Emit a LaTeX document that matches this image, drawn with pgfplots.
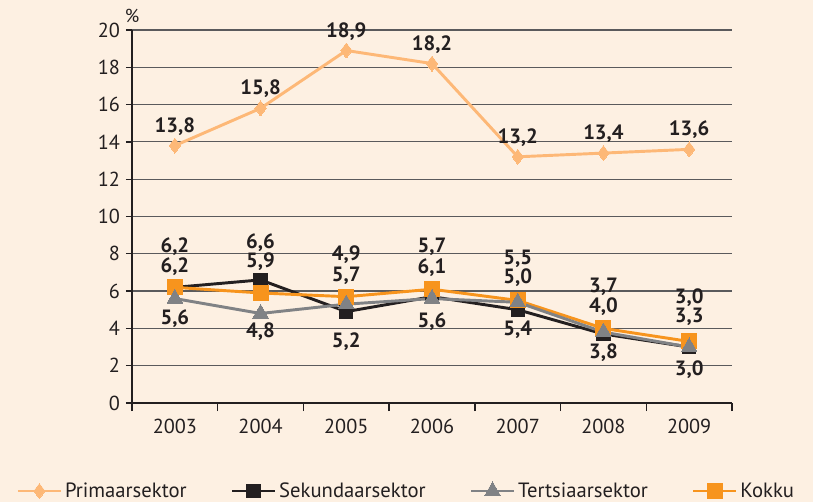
\documentclass[border=0pt]{standalone}
\usepackage{pgfplots}
\usepackage{pgfplotstable}
\pgfplotsset{compat=1.18}
\usepackage{fontspec}
\setmainfont{PT Sans}
\definecolor{bg}{HTML}{FDF0E2}
\definecolor{txt}{HTML}{231F20}
\definecolor{prim}{HTML}{FDB877}
\definecolor{sek}{HTML}{231F20}
\definecolor{ter}{HTML}{808285}
\definecolor{kok}{HTML}{F7941D}
\definecolor{grd}{HTML}{5A5A5C}

\pgfplotstableread{
x y lab
0 13.8 13,8
1 15.8 15,8
2 18.9 18,9
3 18.2 18,2
4 13.2 13,2
5 13.4 13,4
6 13.6 13,6
}\prim
\pgfplotstableread{
x y
0 6.2
1 6.6
2 4.9
3 5.7
4 5.0
5 3.7
6 3.0
}\sek
\pgfplotstableread{
x y
0 5.6
1 4.8
2 5.3
3 5.6
4 5.4
5 3.8
6 3.0
}\ter
\pgfplotstableread{
x y
0 6.2
1 5.9
2 5.7
3 6.1
4 5.5
5 4.0
6 3.3
}\kok
\pgfplotstableread{
x y lab
0 8.40 6,2
0 7.33 6,2
0 4.54 5,6
1 8.62 6,6
1 7.60 5,9
1 3.85 4,8
2 7.98 4,9
2 6.80 5,7
2 3.31 5,2
3 8.35 5,7
3 7.28 6,1
3 4.38 5,6
4 7.73 5,5
4 6.72 5,0
4 3.95 5,4
5 6.21 3,7
5 5.19 4,0
5 2.72 3,8
6 5.67 3,0
6 4.60 3,3
6 1.81 3,0
}\labs

\begin{document}
\begin{tikzpicture}
\fill[bg] (-99pt,-74.25pt) rectangle (510.75pt,302.25pt);
\useasboundingbox (-99pt,-74.25pt) rectangle (510.75pt,302.25pt);
\begin{axis}[
  scale only axis,
  width=450pt, height=279.75pt,
  anchor=south west, at={(0,0)},
  xmin=-0.5, xmax=6.5, ymin=0, ymax=20,
  clip=false,
  axis lines=left,
  axis line style={-, txt, line width=1pt},
  xtick={0,...,6},
  xticklabels={2003,2004,2005,2006,2007,2008,2009},
  minor xtick={-0.5,0.5,...,6.5},
  ytick={0,2,...,20},
  tick align=outside,
  major tick length=4.5pt,
  minor tick length=6pt,
  major x tick style={draw=none},
  minor x tick style={txt, line width=1pt},
  ytick style={txt, line width=1pt},
  ymajorgrids,
  major grid style={grd, line width=0.9pt},
  /pgf/number format/assume math mode=true,
  ticklabel style={font=\fontsize{15.2}{18}\selectfont, text=txt},
  xticklabel style={yshift=-4pt},
  yticklabel style={xshift=-1pt},
  ylabel={\%},
  ylabel style={rotate=-90, at={(axis description cs:0,1)}, anchor=south, yshift=2pt, font=\fontsize{14}{16}\selectfont, text=txt},
  legend columns=-1,
  legend style={draw=none, fill=none, at={(axis description cs:-0.193,-0.236)}, anchor=west,
     font=\fontsize{15.5}{18}\selectfont, text=txt, inner sep=0pt,
     /tikz/every even column/.append style={column sep=31pt}},
  legend image code/.code={
    \draw[mark repeat=2, mark phase=2, #1] plot coordinates {(0pt,0pt) (16.1pt,0pt) (32.2pt,0pt)};
  },
]
\addplot[prim, line width=2.2pt, mark=diamond*, mark size=5.6pt, mark options={solid, fill=prim, draw=prim, line width=0pt},
  nodes near coords, point meta=explicit symbolic,
  every node near coord/.style={anchor=center, yshift=14.5pt, inner sep=1pt, text=txt, font=\bfseries\fontsize{15.5}{18}\selectfont}]
  table[x=x, y=y, meta=lab] {\prim};
\addlegendentry{Primaarsektor}
\addplot[sek, line width=2.2pt, mark=square*, mark size=5pt, mark options={solid, fill=sek, draw=sek, line width=0pt}]
  table[x=x, y=y] {\sek};
\addlegendentry{Sekundaarsektor}
\addplot[kok, line width=2.2pt, mark=square*, mark size=5.6pt, mark options={solid, fill=kok, draw=kok, line width=0pt}, forget plot]
  table[x=x, y=y] {\kok};
\addplot[ter, line width=2.2pt, mark=triangle*, mark size=6.8pt, mark options={solid, fill=ter, draw=ter, line width=0pt}]
  table[x=x, y=y] {\ter};
\addlegendentry{Tertsiaarsektor}
\addlegendimage{kok, line width=2.2pt, mark=square*, mark size=5.6pt, mark options={solid, fill=kok, draw=kok, line width=0pt}}
\addlegendentry{Kokku}
\addplot[draw=none, mark=none, forget plot,
  nodes near coords, point meta=explicit symbolic,
  every node near coord/.style={anchor=center, inner sep=0.5pt, text=txt, font=\bfseries\fontsize{15.5}{18}\selectfont}]
  table[x=x, y=y, meta=lab] {\labs};
\end{axis}
\end{tikzpicture}
\end{document}
